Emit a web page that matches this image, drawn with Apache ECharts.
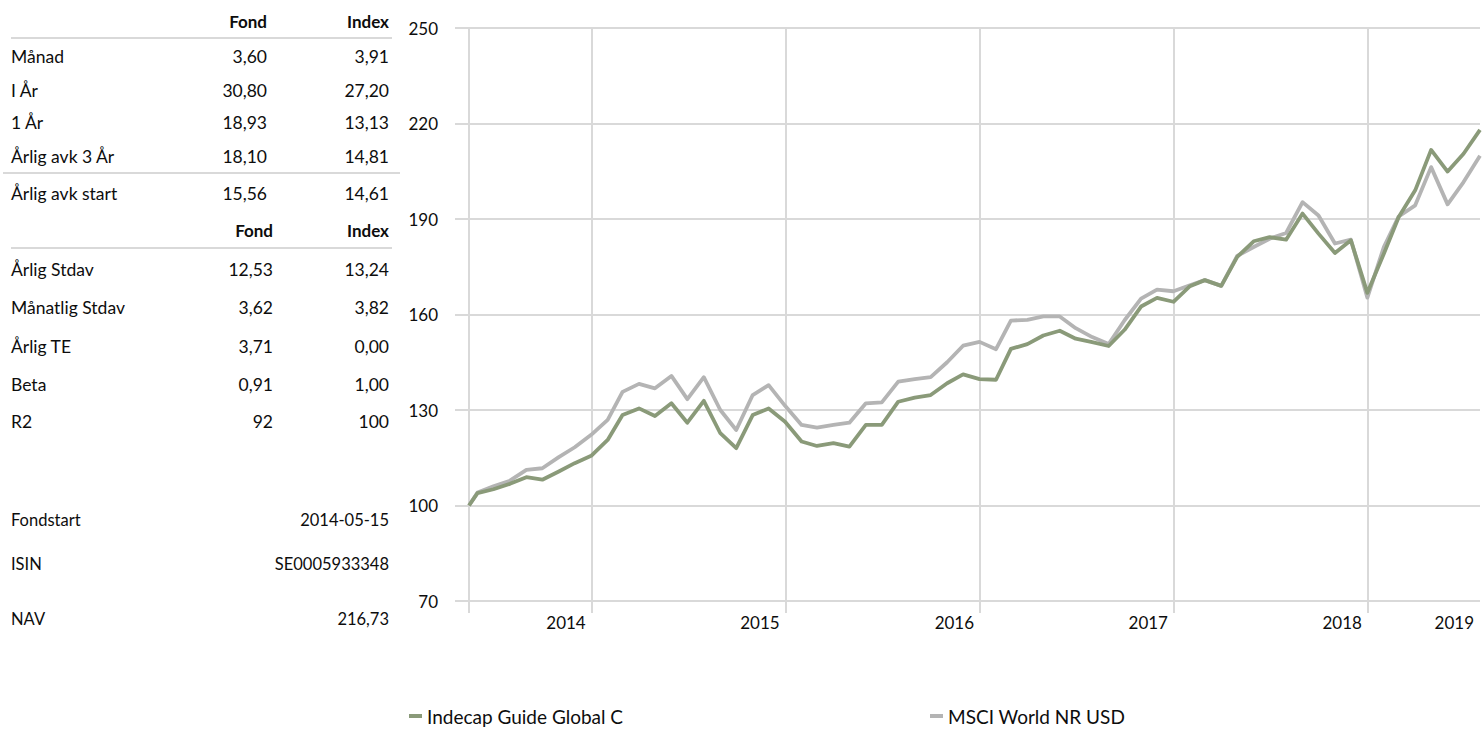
<!DOCTYPE html>
<html>
<head>
<meta charset="utf-8">
<script src="https://cdn.jsdelivr.net/npm/echarts@6/dist/echarts.min.js"></script>
<style>
html,body{margin:0;padding:0;background:#ffffff;}
#chart{width:1483px;height:731px;}
</style>
</head>
<body>
<div id="chart"></div>
<script>
// ---------------- data ----------------
const dates = [
  '2014-05-15','2014-05-31','2014-06-30','2014-07-31','2014-08-31','2014-09-30','2014-10-31','2014-11-30','2014-12-31',
  '2015-01-31','2015-02-28','2015-03-31','2015-04-30','2015-05-31','2015-06-30','2015-07-31','2015-08-31','2015-09-30','2015-10-31','2015-11-30','2015-12-31',
  '2016-01-31','2016-02-29','2016-03-31','2016-04-30','2016-05-31','2016-06-30','2016-07-31','2016-08-31','2016-09-30','2016-10-31','2016-11-30','2016-12-31',
  '2017-01-31','2017-02-28','2017-03-31','2017-04-30','2017-05-31','2017-06-30','2017-07-31','2017-08-31','2017-09-30','2017-10-31','2017-11-30','2017-12-31',
  '2018-01-31','2018-02-28','2018-03-31','2018-04-30','2018-05-31','2018-06-30','2018-07-31','2018-08-31','2018-09-30','2018-10-31','2018-11-30','2018-12-31',
  '2019-01-31','2019-02-28','2019-03-31','2019-04-30','2019-05-31','2019-06-30','2019-07-31'
];
const fundValues = [
  100.0,103.9,105.1,106.8,108.9,108.1,110.7,113.3,115.6,
  120.6,128.4,130.5,128.1,132.1,126.0,132.9,122.7,118.0,128.4,130.5,126.3,
  120.1,118.7,119.6,118.5,125.3,125.3,132.6,133.9,134.7,138.4,141.2,139.7,
  139.5,149.2,150.7,153.4,154.9,152.4,151.3,150.1,155.2,162.5,165.2,164.0,
  168.9,170.8,169.0,178.1,183.0,184.3,183.5,191.7,185.4,179.3,183.3,166.8,
  179.1,190.6,199.0,211.7,204.9,210.5,218.0
];
const indexValues = [
  100.0,104.1,106.0,107.8,111.2,111.7,115.2,118.3,122.2,
  126.9,135.7,138.2,136.8,140.7,133.4,140.3,130.0,123.7,134.7,137.8,131.3,
  125.3,124.5,125.3,126.0,132.1,132.4,138.9,139.7,140.3,145.0,150.2,151.4,
  149.1,158.1,158.3,159.4,159.4,155.7,152.9,150.7,158.2,165.0,167.8,167.3,
  169.2,170.8,169.0,178.4,181.2,183.8,185.6,195.3,191.1,182.3,183.5,165.3,
  181.2,190.8,194.3,206.3,194.6,201.6,209.9
];
const seriesNames = ['Indecap Guide Global C', 'MSCI World NR USD'];
const yTickValues = [70, 100, 130, 160, 190, 220, 250];
const xGridDates = ['2014-05-15','2015-01-01','2016-01-01','2017-01-01','2018-01-01','2019-01-01'];
const xLabelTexts = ['2014','2015','2016','2017','2018','2019'];
const xLabelDates = ['2015-01-01','2016-01-01','2017-01-01','2018-01-01','2019-01-01','2019-07-31'];

const tableHeader = ['Fond', 'Index'];
const returnRows = [
  ['Månad', '3,60', '3,91'],
  ['I År', '30,80', '27,20'],
  ['1 År', '18,93', '13,13'],
  ['Årlig avk 3 År', '18,10', '14,81'],
  ['Årlig avk start', '15,56', '14,61']
];
const riskRows = [
  ['Årlig Stdav', '12,53', '13,24'],
  ['Månatlig Stdav', '3,62', '3,82'],
  ['Årlig TE', '3,71', '0,00'],
  ['Beta', '0,91', '1,00'],
  ['R2', '92', '100']
];
const infoRows = [
  ['Fondstart', '2014-05-15'],
  ['ISIN', 'SE0005933348'],
  ['NAV', '216,73']
];

// ---------------- layout (positions / styles) ----------------
const layout = {
  labelX: 11,
  fond1X: 267, fond2X: 273, indexX: 389,
  header1Y: 21.5,
  returnY: [56.5, 90.5, 122.5, 156.5, 193.5],
  header2Y: 230.5,
  riskY: [269, 307.5, 346, 384, 421.5],
  infoY: [519.5, 564, 618.5],
  lines: [[11, 38, 392], [3, 173, 400], [11, 248, 392]]
};
const FONT = 'Lato, "Open Sans", sans-serif';
const TXT = '#0d0d0d';
const GRID = '#d9d9d9';
const GREEN = '#8a9a79';
const GREY = '#b4b4b4';

function parseDate(s) {
  const p = s.split('-').map(Number);
  return Date.UTC(p[0], p[1] - 1, p[2]);
}

function txt(text, x, y, align, bold, size) {
  return {
    type: 'text', silent: true,
    style: {
      x: x, y: y, text: text,
      fill: TXT,
      fontFamily: FONT, fontSize: size || 17.5, fontWeight: bold ? 'bold' : 'normal',
      align: align, textAlign: align,
      verticalAlign: 'middle', textVerticalAlign: 'middle'
    }
  };
}

const graphics = [];
graphics.push(txt(tableHeader[0], layout.fond1X, layout.header1Y, 'right', true, 17));
graphics.push(txt(tableHeader[1], layout.indexX, layout.header1Y, 'right', true, 17));
returnRows.forEach((r, i) => {
  graphics.push(txt(r[0], layout.labelX, layout.returnY[i], 'left'));
  graphics.push(txt(r[1], layout.fond1X, layout.returnY[i], 'right'));
  graphics.push(txt(r[2], layout.indexX, layout.returnY[i], 'right'));
});
graphics.push(txt(tableHeader[0], layout.fond2X, layout.header2Y, 'right', true, 17));
graphics.push(txt(tableHeader[1], layout.indexX, layout.header2Y, 'right', true, 17));
riskRows.forEach((r, i) => {
  graphics.push(txt(r[0], layout.labelX, layout.riskY[i], 'left'));
  graphics.push(txt(r[1], layout.fond2X, layout.riskY[i], 'right'));
  graphics.push(txt(r[2], layout.indexX, layout.riskY[i], 'right'));
});
infoRows.forEach((r, i) => {
  graphics.push(txt(r[0], layout.labelX, layout.infoY[i], 'left', false, 16.5));
  graphics.push(txt(r[1], layout.indexX, layout.infoY[i], 'right', false, 16.5));
});
layout.lines.forEach(l => {
  graphics.push({
    type: 'line', silent: true,
    shape: { x1: l[0], y1: l[1], x2: l[2], y2: l[1] },
    style: { stroke: GRID, lineWidth: 2 }
  });
});

const xLabelMap = {};
xLabelDates.forEach((d, i) => { xLabelMap[parseDate(d)] = xLabelTexts[i]; });

const legendBase = {
  top: 705, padding: 0, icon: 'rect', itemWidth: 13, itemHeight: 4, selectedMode: false,
  textStyle: { fontFamily: FONT, fontSize: 19, color: TXT, lineHeight: 22 }
};

const chart = echarts.init(document.getElementById('chart'), null, { renderer: 'svg' });
chart.setOption({
  animation: false,
  backgroundColor: '#ffffff',
  textStyle: { fontFamily: FONT },
  grid: { left: 469, right: 0, top: 28, bottom: 130, containLabel: false },
  legend: [
    Object.assign({}, legendBase, { data: [seriesNames[0]], left: 409 }),
    Object.assign({}, legendBase, { data: [seriesNames[1]], left: 930 })
  ],
  xAxis: {
    type: 'value',
    min: parseDate(dates[0]),
    max: parseDate(dates[dates.length - 1]),
    axisLine: { show: false },
    axisTick: {
      show: true, length: 12, inside: false,
      lineStyle: { color: GRID, width: 2 },
      customValues: xGridDates.map(parseDate)
    },
    splitLine: { show: true, lineStyle: { color: GRID, width: 2 } },
    axisLabel: {
      customValues: xLabelDates.map(parseDate),
      formatter: v => xLabelMap[v] || '',
      align: 'right', padding: [0, 6, 0, 0],
      margin: 13, color: TXT, fontSize: 17, fontFamily: FONT, lineHeight: 17
    }
  },
  yAxis: {
    type: 'value', min: 70, max: 250,
    axisLine: { show: false },
    axisTick: {
      show: true, length: 14,
      lineStyle: { color: GRID, width: 2 },
      customValues: yTickValues
    },
    splitLine: { show: true, lineStyle: { color: GRID, width: 2 } },
    axisLabel: {
      customValues: yTickValues,
      margin: 31, color: TXT, fontSize: 17, fontFamily: FONT
    }
  },
  series: [
    {
      name: seriesNames[1], type: 'line', symbol: 'none', showSymbol: false, z: 2,
      data: dates.map((d, i) => [parseDate(d), indexValues[i]]),
      lineStyle: { color: GREY, width: 3.8, join: 'round' },
      itemStyle: { color: GREY }
    },
    {
      name: seriesNames[0], type: 'line', symbol: 'none', showSymbol: false, z: 3,
      data: dates.map((d, i) => [parseDate(d), fundValues[i]]),
      lineStyle: { color: GREEN, width: 3.8, join: 'round' },
      itemStyle: { color: GREEN }
    }
  ],
  graphic: graphics
});
</script>
</body>
</html>
